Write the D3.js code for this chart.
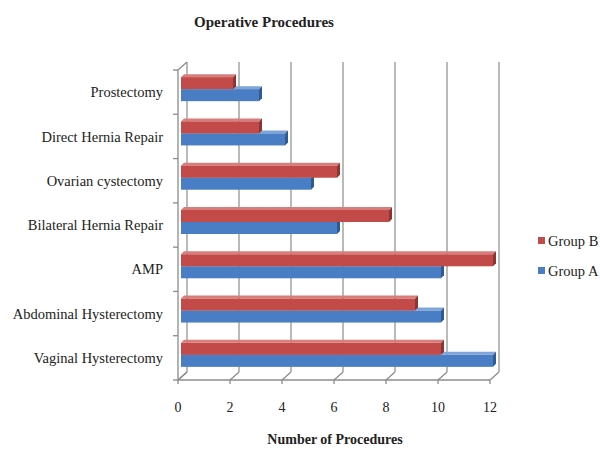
<!DOCTYPE html>
<html>
<head>
<meta charset="utf-8">
<script src="https://cdn.jsdelivr.net/npm/d3@7"></script>
<style>
  html, body { margin: 0; padding: 0; background: #fff; }
  svg { display: block; }
  text { font-family: "Liberation Serif", "Times New Roman", serif; fill: #222; }
</style>
</head>
<body>
<svg id="chart" width="600" height="450"></svg>
<script>
// Procedures, listed top to bottom
const categories = [
  "Prostectomy",
  "Direct Hernia Repair",
  "Ovarian cystectomy",
  "Bilateral Hernia Repair",
  "AMP",
  "Abdominal Hysterectomy",
  "Vaginal Hysterectomy"
];
const groupB = [2, 3, 6, 8, 12, 9, 10];
const groupA = [3, 4, 5, 6, 10, 10, 12];
const xTicks = [0, 2, 4, 6, 8, 10, 12];
const seriesNames = ["Group B", "Group A"];

const svg = d3.select("#chart");

// Front plane of the 3-D plot box and the depth offset to its back wall
const x = d3.scaleLinear().domain([0, 12]).range([178, 490]);
const y = d3.scaleBand().domain(categories).range([70, 380]);
const depth = { dx: 9, dy: -8 };
const barDepth = { dx: 3, dy: -3 };
const barShift = 3;   // bars sit a little behind the front plane
const barH = 12;

const colors = {
  "Group B": { front: "#C24A48", top: "#D77E7C", side: "#8E3432" },
  "Group A": { front: "#4A7EC4", top: "#7FA5D8", side: "#2F5B94" }
};
const axisColor = "#8c8c8c";

// Back-wall gridlines
svg.append("g").selectAll("line").data(xTicks).join("line")
  .attr("x1", d => x(d) + depth.dx).attr("x2", d => x(d) + depth.dx)
  .attr("y1", y.range()[0] + depth.dy).attr("y2", y.range()[1] + depth.dy)
  .attr("stroke", "#a3a3a3").attr("stroke-width", 1.5);

// Left wall edges
const plotTop = y.range()[0], plotBot = y.range()[1], x0 = x(0);
const frame = svg.append("g").attr("stroke", axisColor).attr("stroke-width", 1.3).attr("fill", "none");
frame.append("path").attr("d",
  `M${x0},${plotBot}L${x0},${plotTop}L${x0 + depth.dx},${plotTop + depth.dy}`);
frame.append("path").attr("d",
  `M${x0},${plotBot}L${x0 + depth.dx},${plotBot + depth.dy}`);

// Floor: front axis line, ticks and depth edges
frame.append("line").attr("x1", x(0)).attr("x2", x(12)).attr("y1", plotBot).attr("y2", plotBot);
frame.selectAll(".xt").data(xTicks).join("path").attr("class", "xt")
  .attr("d", d => `M${x(d)},${plotBot + 4}L${x(d)},${plotBot}L${x(d) + depth.dx},${plotBot + depth.dy}`);
// Category ticks on the left axis
frame.selectAll(".yt").data(d3.range(categories.length + 1)).join("line").attr("class", "yt")
  .attr("x1", x0 - 5).attr("x2", x0)
  .attr("y1", i => plotTop + i * y.step()).attr("y2", i => plotTop + i * y.step());

// 3-D bars
function drawBar(g, v, yTop, c) {
  const a = x(0) + barShift, b = x(v) + barShift, yb = yTop + barH;
  const { dx, dy } = barDepth;
  g.append("polygon")
    .attr("points", [[a, yTop], [a + dx, yTop + dy], [b + dx, yTop + dy], [b, yTop]].join(" "))
    .attr("fill", c.top);
  g.append("polygon")
    .attr("points", [[b, yTop], [b + dx, yTop + dy], [b + dx, yb + dy], [b, yb]].join(" "))
    .attr("fill", c.side);
  g.append("rect").attr("x", a).attr("y", yTop).attr("width", b - a).attr("height", barH)
    .attr("fill", c.front);
}

const bars = svg.append("g");
categories.forEach((cat, i) => {
  const center = y(cat) + y.bandwidth() / 2 - 3;
  const g = bars.append("g");
  drawBar(g, groupA[i], center, colors["Group A"]);
  drawBar(g, groupB[i], center - barH, colors["Group B"]);
});

// Category labels
svg.append("g").selectAll("text").data(categories).join("text")
  .attr("x", 163).attr("y", d => y(d) + y.bandwidth() / 2)
  .attr("dy", "0.35em").attr("text-anchor", "end")
  .attr("font-size", 14.5).text(d => d);

// Value labels
svg.append("g").selectAll("text").data(xTicks).join("text")
  .attr("x", d => x(d)).attr("y", 412).attr("text-anchor", "middle")
  .attr("font-size", 14).text(d => d);

// Titles
svg.append("text").attr("x", 264).attr("y", 27).attr("text-anchor", "middle")
  .attr("font-size", 15).attr("font-weight", "bold").text("Operative Procedures");
svg.append("text").attr("x", 335).attr("y", 444).attr("text-anchor", "middle")
  .attr("font-size", 14).attr("font-weight", "bold").text("Number of Procedures");

// Legend
const legend = svg.append("g").selectAll("g").data(seriesNames).join("g")
  .attr("transform", (d, i) => `translate(538, ${237 + i * 30})`);
legend.append("rect").attr("width", 7).attr("height", 7).attr("fill", d => colors[d].front);
legend.append("text").attr("x", 10).attr("y", 4).attr("dy", "0.35em")
  .attr("font-size", 14.5).text(d => d);
</script>
</body>
</html>
